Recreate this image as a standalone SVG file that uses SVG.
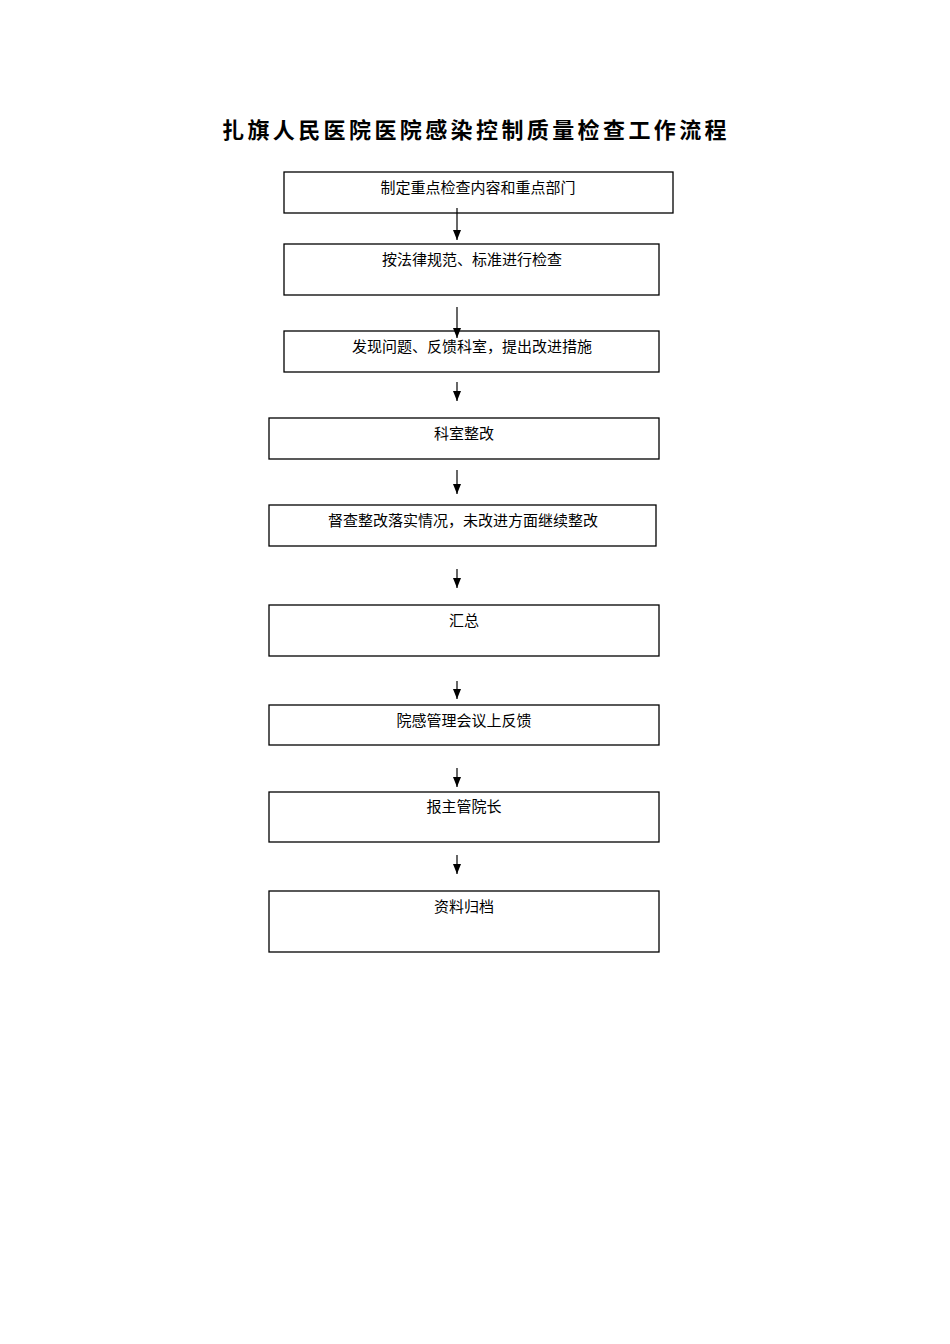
<svg xmlns="http://www.w3.org/2000/svg" width="950" height="1344" viewBox="0 0 950 1344">
<style>
.b{fill:#fff;stroke:#000;stroke-width:1.3}
.t{font-family:"Liberation Serif","Noto Sans CJK SC",serif;font-size:15px;text-anchor:middle}
.c{stroke:#000;stroke-width:1.2;fill:none}
</style>
<defs><marker id="a" markerWidth="8" markerHeight="10" refX="4" refY="10" orient="0" markerUnits="userSpaceOnUse" viewBox="0 0 8 10"><path d="M0,0L8,0L4,10z"/></marker></defs>
<rect width="950" height="1344" fill="#fff"/>
<text x="476" y="138" style="font-family:'Noto Sans CJK SC',sans-serif;font-size:22px;font-weight:bold;text-anchor:middle;letter-spacing:3.4px">扎旗人民医院医院感染控制质量检查工作流程</text>
<g id="n1"><rect class="b" x="284" y="172" width="389" height="41"/><text class="t" x="478" y="193">制定重点检查内容和重点部门</text></g>
<g id="n2"><rect class="b" x="284" y="244" width="375" height="51"/><text class="t" x="472" y="265">按法律规范、标准进行检查</text></g>
<g id="n3"><rect class="b" x="284" y="331" width="375" height="41"/><text class="t" x="472" y="352">发现问题、反馈科室，提出改进措施</text></g>
<g id="n4"><rect class="b" x="269" y="418" width="390" height="41"/><text class="t" x="464" y="439">科室整改</text></g>
<g id="n5"><rect class="b" x="269" y="505" width="387" height="41"/><text class="t" x="463" y="526">督查整改落实情况，未改进方面继续整改</text></g>
<g id="n6"><rect class="b" x="269" y="605" width="390" height="51"/><text class="t" x="464" y="626">汇总</text></g>
<g id="n7"><rect class="b" x="269" y="705" width="390" height="40"/><text class="t" x="464" y="726">院感管理会议上反馈</text></g>
<g id="n8"><rect class="b" x="269" y="792" width="390" height="50"/><text class="t" x="464" y="812">报主管院长</text></g>
<g id="n9"><rect class="b" x="269" y="891" width="390" height="61"/><text class="t" x="464" y="912">资料归档</text></g>
<g id="connectors">
<path class="c" marker-end="url(#a)" d="M457,208V240"/>
<path class="c" marker-end="url(#a)" d="M457,307V338"/>
<path class="c" marker-end="url(#a)" d="M457,382V401"/>
<path class="c" marker-end="url(#a)" d="M457,470V494"/>
<path class="c" marker-end="url(#a)" d="M457,569V588"/>
<path class="c" marker-end="url(#a)" d="M457,681V699"/>
<path class="c" marker-end="url(#a)" d="M457,768V787"/>
<path class="c" marker-end="url(#a)" d="M457,855V874"/>
</g>
</svg>
